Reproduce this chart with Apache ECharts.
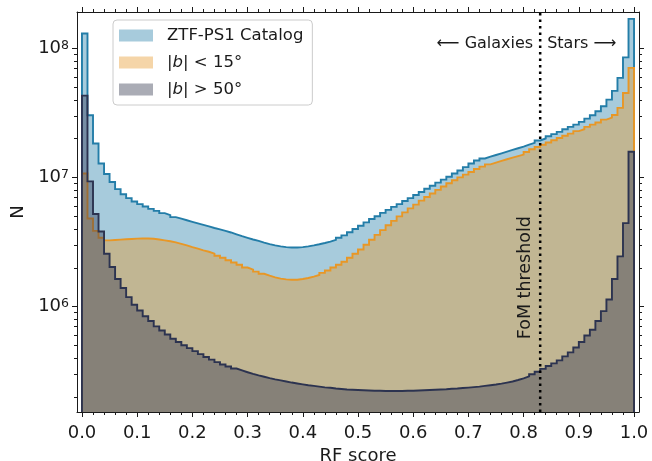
<!DOCTYPE html>
<html><head><meta charset="utf-8">
<script src="https://cdn.jsdelivr.net/npm/echarts@6/dist/echarts.min.js"></script>
<style>html,body{margin:0;padding:0;background:#fff}#c{width:652px;height:461px}</style>
</head><body><div id="c"></div>
<script>
// ---- data (100 bins of width 0.01 on RF score) ----
const BIN_WIDTH = 0.01;
const ztfCatalog = [
 1.30e8,3.03e7,1.83e7,1.28e7,1.06e7,9.2e6,8.1e6,7.4e6,6.9e6,6.5e6,
 6.2e6,5.95e6,5.7e6,5.5e6,5.28e6,5.1e6,4.92e6,4.78e6,4.65e6,4.52e6,
 4.4e6,4.28e6,4.17e6,4.05e6,3.95e6,3.85e6,3.74e6,3.62e6,3.5e6,3.4e6,
 3.3e6,3.22e6,3.12e6,3.04e6,2.97e6,2.92e6,2.88e6,2.86e6,2.86e6,2.88e6,
 2.92e6,2.97e6,3.03e6,3.1e6,3.18e6,3.28e6,3.4e6,3.55e6,3.75e6,3.98e6,
 4.22e6,4.48e6,4.75e6,5.0e6,5.3e6,5.6e6,5.9e6,6.2e6,6.55e6,6.9e6,
 7.3e6,7.7e6,8.15e6,8.6e6,9.1e6,9.6e6,1.01e7,1.07e7,1.13e7,1.2e7,
 1.28e7,1.35e7,1.4e7,1.445e7,1.49e7,1.535e7,1.58e7,1.63e7,1.68e7,1.73e7,
 1.79e7,1.85e7,1.93e7,2.0e7,2.08e7,2.16e7,2.25e7,2.36e7,2.46e7,2.56e7,
 2.69e7,2.85e7,3.03e7,3.25e7,3.55e7,4.0e7,4.68e7,5.9e7,8.5e7,1.69e8
];
const lowLatitude = [
 1.07e7,4.8e6,3.85e6,3.4e6,3.25e6,3.27e6,3.29e6,3.31e6,3.33e6,3.35e6,
 3.36e6,3.36e6,3.34e6,3.3e6,3.25e6,3.2e6,3.13e6,3.05e6,2.97e6,2.88e6,
 2.8e6,2.72e6,2.65e6,2.56e6,2.47e6,2.38e6,2.28e6,2.19e6,2.1e6,2.0e6,
 1.93e6,1.86e6,1.79e6,1.73e6,1.68e6,1.64e6,1.62e6,1.61e6,1.61e6,1.63e6,
 1.66e6,1.7e6,1.75e6,1.82e6,1.9e6,2.0e6,2.1e6,2.22e6,2.38e6,2.56e6,
 2.76e6,3.0e6,3.28e6,3.58e6,3.9e6,4.25e6,4.6e6,4.98e6,5.35e6,5.75e6,
 6.15e6,6.6e6,7.05e6,7.5e6,8.0e6,8.5e6,9.0e6,9.5e6,1.0e7,1.05e7,
 1.1e7,1.16e7,1.21e7,1.26e7,1.3e7,1.34e7,1.38e7,1.42e7,1.46e7,1.5e7,
 1.57e7,1.65e7,1.72e7,1.79e7,1.86e7,1.94e7,2.02e7,2.1e7,2.18e7,2.28e7,
 2.36e7,2.46e7,2.56e7,2.66e7,2.8e7,2.9e7,3.04e7,3.45e7,4.5e7,7.05e7
];
const highLatitude = [
 4.3e7,9.3e6,5.2e6,3.8e6,2.56e6,2.02e6,1.63e6,1.39e6,1.18e6,1.03e6,
 9.3e5,8.4e5,7.7e5,7.0e5,6.5e5,6.05e5,5.62e5,5.3e5,5.0e5,4.75e5,
 4.5e5,4.27e5,4.06e5,3.87e5,3.7e5,3.55e5,3.42e5,3.3e5,3.19e5,3.09e5,
 3.0e5,2.92e5,2.85e5,2.78e5,2.72e5,2.67e5,2.62e5,2.57e5,2.53e5,2.49e5,
 2.45e5,2.42e5,2.39e5,2.36e5,2.34e5,2.31e5,2.29e5,2.27e5,2.26e5,2.25e5,
 2.24e5,2.23e5,2.22e5,2.22e5,2.21e5,2.21e5,2.21e5,2.21e5,2.22e5,2.22e5,
 2.23e5,2.24e5,2.25e5,2.26e5,2.27e5,2.28e5,2.3e5,2.31e5,2.33e5,2.35e5,
 2.37e5,2.39e5,2.42e5,2.45e5,2.48e5,2.52e5,2.57e5,2.62e5,2.69e5,2.77e5,
 2.87e5,2.98e5,3.12e5,3.28e5,3.45e5,3.62e5,3.82e5,4.1e5,4.4e5,4.8e5,
 5.3e5,5.95e5,6.6e5,7.7e5,9.2e5,1.13e6,1.63e6,2.44e6,4.42e6,1.58e7
];
const SERIES_NAMES = ['ZTF-PS1 Catalog', '|b| < 15°', '|b| > 50°'];
const X_TICK_INTERVAL = 0.1;
const Y_MAJOR_TICKS = [1e6, 1e7, 1e8];
const Y_MINOR_TICKS = [2e5,3e5,4e5,5e5,6e5,7e5,8e5,9e5, 2e6,3e6,4e6,5e6,6e6,7e6,8e6,9e6, 2e7,3e7,4e7,5e7,6e7,7e7,8e7,9e7];
const FOM_THRESHOLD = 0.83;
const ANNOT_Y = 1.08e8;
const FOM_LABEL_Y = 1.67e6;

// ---- axis limits / styles ----
const X_MIN = -0.009, X_MAX = 1.009;
const Y_MIN = 1.52e5, Y_MAX = 1.91e8;
const LINE_COLORS = ['#237da8', '#e89726', '#2c3350'];
const LEGEND_FILLS = ['#a7cbdc', '#f5d5a8', '#aaacb5'];
const FONT = 'DejaVu Sans';
const INK = '#1a1a1a';

function stepData(vals) {
  const pts = [[0, Y_MIN]];
  vals.forEach((v, i) => pts.push([+(i * BIN_WIDTH).toFixed(2), v]));
  pts.push([1, vals[vals.length - 1]]);
  pts.push([1, Y_MIN]);
  return pts;
}

const chart = echarts.init(document.getElementById('c'), null, {renderer: 'canvas'});

const histSeries = [ztfCatalog, lowLatitude, highLatitude].map((vals, i) => ({
  name: SERIES_NAMES[i], type: 'line', xAxisIndex: 0, yAxisIndex: 0,
  step: 'end', showSymbol: false, symbol: 'none', clip: true, z: 2 + i,
  data: stepData(vals),
  itemStyle: {color: LINE_COLORS[i]},
  lineStyle: {color: LINE_COLORS[i], width: 1.9, join: 'miter'},
  areaStyle: {color: LINE_COLORS[i], opacity: 0.4, origin: 'start'},
  emphasis: {disabled: true}, silent: true
}));

const tickStyle = {color: INK, width: 1};
const option = {
  animation: false,
  backgroundColor: '#fff',
  textStyle: {fontFamily: FONT},
  grid: [
    {left: 77, top: 12, width: 562, height: 400, containLabel: false, outerBoundsMode: 'none'},
    {left: 82, top: 12, width: 552, height: 400, containLabel: false, outerBoundsMode: 'none'}
  ],
  xAxis: [
    {gridIndex: 0, type: 'value', min: X_MIN, max: X_MAX, position: 'bottom', z: 10,
     axisLine: {show: true, onZero: false, lineStyle: tickStyle}, axisTick: {show: false}, axisLabel: {show: false}, splitLine: {show: false}},
    {gridIndex: 0, type: 'value', min: X_MIN, max: X_MAX, position: 'top', z: 10,
     axisLine: {show: true, onZero: false, lineStyle: tickStyle}, axisTick: {show: false}, axisLabel: {show: false}, splitLine: {show: false}},
    {gridIndex: 1, type: 'value', min: 0, max: 1, interval: X_TICK_INTERVAL, position: 'bottom',
     name: 'RF score', nameLocation: 'middle', nameGap: 31,
     nameTextStyle: {fontSize: 18, color: INK, fontFamily: FONT},
     axisLine: {show: false}, axisTick: {show: true, length: 5, inside: false, lineStyle: tickStyle},
     minorTick: {show: true, splitNumber: 5, length: 3, lineStyle: tickStyle},
     axisLabel: {show: true, margin: 12, fontSize: 18, color: INK, fontFamily: FONT, formatter: v => v.toFixed(1),
                 showMinLabel: true, showMaxLabel: true},
     splitLine: {show: false}},
    {gridIndex: 1, type: 'value', min: 0, max: 1, interval: X_TICK_INTERVAL, position: 'top',
     axisLine: {show: false}, axisTick: {show: true, length: 5, inside: false, lineStyle: tickStyle},
     minorTick: {show: true, splitNumber: 5, length: 3, lineStyle: tickStyle},
     axisLabel: {show: false}, splitLine: {show: false}}
  ],
  yAxis: [
    {gridIndex: 0, type: 'log', logBase: 10, min: Y_MIN, max: Y_MAX, position: 'left', z: 10,
     name: 'N', nameLocation: 'middle', nameGap: 50,
     nameTextStyle: {fontSize: 18, color: INK, fontFamily: FONT},
     axisLine: {show: true, onZero: false, lineStyle: tickStyle}, axisTick: {show: false},
     splitLine: {show: false},
     axisLabel: {show: true, margin: 8, showMinLabel: false, showMaxLabel: false, color: INK,
       formatter: v => { const e = Math.log10(v); if (Math.abs(e - Math.round(e)) > 1e-6) return ''; return '{b|10}{s|' + Math.round(e) + '}'; },
       rich: {
         b: {fontSize: 18, fontFamily: FONT, color: INK, verticalAlign: 'bottom', lineHeight: 18},
         s: {fontSize: 12.5, fontFamily: FONT, color: INK, verticalAlign: 'top', lineHeight: 12.5, padding: [0, 0, 10, 0]}
       }}},
    {gridIndex: 0, type: 'log', logBase: 10, min: Y_MIN, max: Y_MAX, position: 'right', z: 10,
     axisLine: {show: true, onZero: false, lineStyle: tickStyle}, axisTick: {show: false},
     axisLabel: {show: false}, splitLine: {show: false}},
    {gridIndex: 1, type: 'value', show: false, min: 0, max: 1}
  ],
  legend: {
    orient: 'vertical', left: 113, top: 20,
    padding: [7, 9, 7, 6], itemGap: 10, itemWidth: 34, itemHeight: 12,
    backgroundColor: 'rgba(255,255,255,0.8)', borderColor: '#cccccc', borderWidth: 1, borderRadius: 4,
    data: SERIES_NAMES.map((n, i) => ({name: n, icon: 'rect', itemStyle: {color: LEGEND_FILLS[i], borderWidth: 0, opacity: 1}})),
    textStyle: {fontSize: 16.5, color: INK, fontFamily: FONT, padding: [0, 0, 0, 9],
      rich: {i: {fontSize: 16.5, fontStyle: 'italic', fontFamily: FONT, color: INK}}},
    formatter: n => n.replace(/\|b\|/, '|{i|b}|'),
    selectedMode: false
  },
  series: histSeries.concat([
    {type: 'line', xAxisIndex: 0, yAxisIndex: 0, silent: true, showSymbol: false, symbol: 'none', z: 6,
     data: [[FOM_THRESHOLD, Y_MIN], [FOM_THRESHOLD, Y_MAX]],
     lineStyle: {color: '#000', width: 2.5, type: [2.5, 4], cap: 'butt'}},
    {type: 'custom', xAxisIndex: 0, yAxisIndex: 0, silent: true, clip: false, z: 10,
     data: Y_MAJOR_TICKS.map(v => [0, v, 1]).concat(Y_MINOR_TICKS.map(v => [0, v, 0])),
     renderItem: (params, api) => {
       const cs = params.coordSys;
       const y = Math.round(api.coord([0, api.value(1)])[1]) + 0.5;
       const len = api.value(2) ? 5 : 3;
       const st = {stroke: INK, lineWidth: 1};
       return {type: 'group', children: [
         {type: 'line', shape: {x1: cs.x - len, y1: y, x2: cs.x, y2: y}, style: st},
         {type: 'line', shape: {x1: cs.x + cs.width, y1: y, x2: cs.x + cs.width + len, y2: y}, style: st}
       ]};
     }}
  ])
};
chart.setOption(option);

// annotations placed through the data coordinate system
const pA = chart.convertToPixel({xAxisIndex: 0, yAxisIndex: 0}, [FOM_THRESHOLD, ANNOT_Y]);
const pF = chart.convertToPixel({xAxisIndex: 0, yAxisIndex: 0}, [FOM_THRESHOLD, FOM_LABEL_Y]);
chart.setOption({
  graphic: [
    {type: 'text', x: pA[0] - 7, y: pA[1], z: 20,
     style: {text: '⟵ Galaxies', align: 'right', verticalAlign: 'middle', fontSize: 16, fontFamily: FONT, fill: INK}},
    {type: 'text', x: pA[0] + 7, y: pA[1], z: 20,
     style: {text: 'Stars ⟶', align: 'left', verticalAlign: 'middle', fontSize: 16, fontFamily: FONT, fill: INK}},
    {type: 'text', x: pF[0] - 15, y: pF[1], rotation: Math.PI / 2, z: 20,
     style: {text: 'FoM threshold', align: 'center', verticalAlign: 'middle', fontSize: 17.5, fontFamily: FONT, fill: INK}}
  ]
});
</script></body></html>
